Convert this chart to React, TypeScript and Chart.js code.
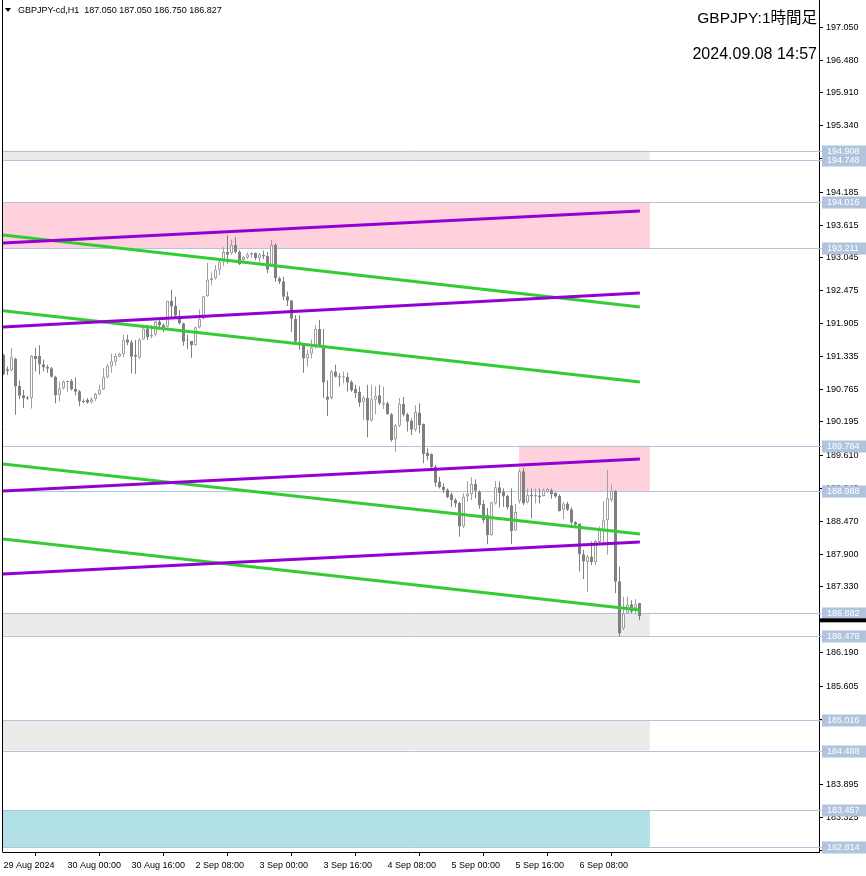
import React, { useEffect, useRef } from "react";
import { Chart, registerables } from "chart.js";

Chart.register(...registerables);

// ---- candle data (H1 bars, 29 Aug 08:00 .. 6 Sep 23:00) ----
const opens = [
  191.36, 191.11, 191.09, 191.30, 190.82, 190.66, 190.62, 190.61, 191.34, 191.34,
  191.20, 191.15, 191.13, 190.98, 190.66, 190.78, 190.89, 190.91, 190.77, 190.73,
  190.56, 190.58, 190.54, 190.59, 190.68, 190.76, 190.97, 191.16, 191.24, 191.33,
  191.37, 191.63, 191.58, 191.36, 191.31, 191.63, 191.82, 191.68, 191.71, 191.94,
  191.88, 191.85, 192.30, 192.21, 192.04, 191.91, 191.62, 191.60, 191.53, 191.84,
  191.99, 192.38, 192.66, 192.69, 192.84, 192.98, 193.15, 193.12, 193.27, 193.15,
  193.01, 193.05, 193.10, 193.13, 193.04, 193.10, 193.08, 192.90, 193.27, 192.69,
  192.64, 192.38, 192.31, 191.99, 191.59, 191.53, 191.30, 191.38, 191.49, 191.81,
  191.53, 190.64, 190.61, 191.07, 190.99, 190.97, 190.98, 190.89, 190.77, 190.72,
  190.54, 190.61, 190.22, 190.58, 190.66, 190.50, 190.52, 190.33, 189.89, 190.13,
  190.51, 190.33, 190.22, 190.06, 190.36, 190.16, 189.66, 189.64, 189.42, 189.16,
  189.07, 189.02, 188.94, 188.84, 188.79, 188.38, 188.90, 188.94, 189.12, 188.98,
  188.77, 188.58, 188.23, 188.78, 189.06, 188.98, 188.91, 188.75, 188.31, 188.82,
  189.34, 188.80, 188.93, 188.90, 188.92, 188.91, 188.98, 189.01, 188.96, 188.91,
  188.67, 188.78, 188.68, 188.46, 188.43, 187.90, 187.76, 187.86, 187.76, 188.11,
  188.32, 188.49, 188.84, 189.00, 187.43, 186.61, 186.87, 187.03, 186.96, 187.05,
];
const highs = [
  191.38, 191.16, 191.48, 191.31, 190.91, 190.75, 190.65, 191.36, 191.48, 191.53,
  191.28, 191.19, 191.15, 191.00, 190.90, 190.92, 190.92, 190.94, 190.97, 190.75,
  190.59, 190.61, 190.63, 190.70, 190.84, 191.13, 191.21, 191.38, 191.39, 191.40,
  191.71, 191.71, 191.62, 191.62, 191.65, 191.85, 191.88, 191.88, 191.95, 191.97,
  191.91, 192.30, 192.49, 192.37, 192.14, 191.92, 191.71, 191.60, 191.85, 192.15,
  192.38, 192.96, 192.79, 192.92, 193.04, 193.23, 193.44, 193.36, 193.41, 193.18,
  193.08, 193.14, 193.14, 193.14, 193.13, 193.17, 193.15, 193.36, 193.30, 192.72,
  192.72, 192.46, 192.31, 192.05, 192.05, 191.56, 191.45, 191.63, 191.88, 191.97,
  191.81, 190.92, 191.10, 191.19, 191.04, 191.07, 191.05, 190.92, 190.84, 190.81,
  190.65, 190.84, 190.84, 190.81, 190.84, 190.81, 190.55, 190.35, 190.16, 190.61,
  190.63, 190.35, 190.26, 190.49, 190.52, 190.17, 189.74, 189.65, 189.45, 189.24,
  189.13, 189.04, 188.97, 188.87, 188.81, 188.96, 189.16, 189.24, 189.20, 189.01,
  188.84, 188.70, 188.81, 189.17, 189.16, 189.04, 188.93, 189.04, 188.77, 189.38,
  189.40, 189.04, 189.04, 189.04, 189.04, 189.04, 189.05, 189.04, 188.98, 188.94,
  188.80, 188.81, 188.71, 188.47, 188.43, 187.97, 187.89, 188.12, 188.15, 188.38,
  188.82, 189.36, 189.11, 189.01, 187.68, 187.16, 187.16, 187.10, 187.12, 187.05,
];
const lows = [
  191.01, 191.01, 191.07, 190.32, 190.59, 190.44, 190.58, 190.43, 191.07, 191.02,
  191.07, 191.05, 190.97, 190.52, 190.55, 190.76, 190.72, 190.74, 190.66, 190.47,
  190.52, 190.51, 190.51, 190.56, 190.66, 190.75, 190.95, 191.05, 191.17, 191.32,
  191.32, 191.53, 191.04, 191.03, 191.30, 191.62, 191.62, 191.65, 191.68, 191.80,
  191.76, 191.84, 192.02, 192.01, 191.89, 191.52, 191.46, 191.31, 191.52, 191.82,
  191.98, 192.37, 192.57, 192.67, 192.75, 192.90, 192.95, 193.10, 193.12, 192.92,
  192.98, 193.02, 193.04, 193.01, 192.96, 193.02, 192.78, 192.89, 192.63, 192.59,
  192.31, 192.21, 191.76, 191.56, 191.45, 191.05, 191.16, 191.30, 191.47, 191.50,
  190.61, 190.30, 190.59, 190.97, 190.81, 190.87, 190.72, 190.72, 190.61, 190.46,
  190.23, 189.93, 190.20, 190.33, 190.49, 190.42, 190.32, 189.85, 189.68, 190.11,
  190.29, 190.03, 189.97, 190.03, 190.00, 189.48, 189.53, 189.39, 189.07, 189.04,
  188.96, 188.87, 188.72, 188.71, 188.20, 188.35, 188.81, 188.84, 188.87, 188.69,
  188.44, 188.07, 188.22, 188.76, 188.71, 188.72, 188.67, 188.07, 188.30, 188.78,
  188.75, 188.78, 188.52, 188.78, 188.78, 188.90, 188.96, 188.86, 188.88, 188.64,
  188.51, 188.65, 188.41, 188.39, 187.60, 187.47, 187.24, 187.71, 187.71, 188.09,
  188.09, 187.89, 188.81, 187.22, 186.47, 186.58, 186.86, 186.87, 186.87, 186.75,
];
const closes = [
  191.02, 191.08, 191.32, 190.81, 190.65, 190.61, 190.60, 191.34, 191.29, 191.20,
  191.14, 191.12, 190.98, 190.66, 190.78, 190.90, 190.90, 190.76, 190.72, 190.55,
  190.54, 190.53, 190.59, 190.68, 190.76, 190.98, 191.17, 191.25, 191.34, 191.38,
  191.63, 191.57, 191.33, 191.33, 191.63, 191.82, 191.67, 191.71, 191.94, 191.87,
  191.83, 192.30, 192.20, 192.04, 191.91, 191.59, 191.61, 191.53, 191.84, 191.99,
  192.38, 192.67, 192.69, 192.84, 192.98, 193.15, 193.10, 193.27, 193.15, 192.94,
  193.06, 193.11, 193.13, 193.04, 193.11, 193.07, 192.84, 193.27, 192.69, 192.63,
  192.37, 192.30, 191.99, 191.59, 191.53, 191.30, 191.38, 191.49, 191.81, 191.53,
  190.88, 190.58, 191.07, 190.98, 190.97, 190.99, 190.88, 190.74, 190.70, 190.53,
  190.62, 190.22, 190.59, 190.65, 190.52, 190.53, 190.33, 189.88, 190.14, 190.51,
  190.32, 190.20, 190.06, 190.37, 190.14, 189.64, 189.60, 189.41, 189.14, 189.06,
  189.01, 188.89, 188.84, 188.78, 188.38, 188.90, 188.95, 189.12, 189.00, 188.75,
  188.49, 188.23, 188.80, 189.06, 188.96, 188.90, 188.72, 188.30, 188.63, 189.34,
  188.78, 188.93, 188.90, 188.93, 188.89, 189.01, 189.03, 188.94, 188.90, 188.65,
  188.78, 188.67, 188.45, 188.41, 187.90, 187.77, 187.86, 187.76, 188.13, 188.34,
  188.49, 188.87, 189.00, 187.42, 186.52, 186.87, 187.02, 186.90, 187.03, 186.827,
];

// ---- axes ----
const xTickIdx = [0, 16, 32, 48, 64, 80, 96, 112, 128, 144];
const xTickLabels = [
  "29 Aug 2024", "30 Aug 00:00", "30 Aug 16:00", "2 Sep 08:00", "3 Sep 00:00",
  "3 Sep 16:00", "4 Sep 08:00", "5 Sep 00:00", "5 Sep 16:00", "6 Sep 08:00",
];
const yTicks = [
  197.05, 196.48, 195.91, 195.34, 194.77, 194.185, 193.615, 193.045, 192.475,
  191.905, 191.335, 190.765, 190.195, 189.61, 189.04, 188.47, 187.9, 187.33,
  186.76, 186.19, 185.605, 185.035, 184.465, 183.895, 183.325, 182.755,
];
const Y_MIN = 182.726;
const Y_MAX = 197.525;
const X_MIN = -0.125;
const X_MAX = 203.875;

// ---- horizontal levels & zones ----
const levelPrices = [194.908, 194.748, 194.016, 193.211, 189.784, 188.988, 186.882, 186.478, 185.016, 184.488, 183.457, 182.814];
const zoneTop = [194.908, 194.016, 189.784, 186.882, 185.016, 183.457];
const zoneBottom = [194.748, 193.211, 188.988, 186.478, 184.488, 182.814];
const zoneStart = [-0.125, -0.125, 128.9, -0.125, -0.125, -0.125];
const zoneEnd = [161.6, 161.6, 161.6, 161.6, 161.6, 161.6];
const zoneColors = ["#ebebeb", "#ffd1dc", "#ffd1dc", "#ebebeb", "#ebebeb", "#b0e0e6"];
const bidMarker = 186.75;

// ---- trend lines (start price at left edge, end price at last bar) ----
const lineStart = -0.125;
const lineEnd = 159.1;
const purpleLines = [
  [193.304, 193.86],
  [191.845, 192.436],
  [188.996, 189.552],
  [187.555, 188.11],
];
const greenLines = [
  [193.443, 192.192],
  [192.128, 190.89],
  [189.465, 188.249],
  [188.163, 186.929],
];

const headerText = "GBPJPY-cd,H1  187.050 187.050 186.750 186.827";
const titleText = "GBPJPY:1時間足";
const dateText = "2024.09.08 14:57";

const FONT = "'Liberation Sans', 'DejaVu Sans', sans-serif";
const LEVEL_COLOR = "#b0c4de";

const decorPlugin = {
  id: "mtDecor",
  beforeDatasetsDraw(chart: any) {
    const { ctx, chartArea } = chart;
    const xs = chart.scales.x;
    const ys = chart.scales.y;
    ctx.save();
    ctx.beginPath();
    ctx.rect(chartArea.left, chartArea.top, chartArea.right - chartArea.left, chartArea.bottom - chartArea.top);
    ctx.clip();
    for (let i = 0; i < zoneTop.length; i++) {
      const x0 = Math.max(xs.getPixelForValue(zoneStart[i]), chartArea.left);
      const x1 = xs.getPixelForValue(zoneEnd[i]);
      const y0 = ys.getPixelForValue(zoneTop[i]);
      const y1 = ys.getPixelForValue(zoneBottom[i]);
      ctx.fillStyle = zoneColors[i];
      ctx.fillRect(x0, y0, x1 - x0, y1 - y0);
    }
    ctx.restore();
    ctx.save();
    ctx.strokeStyle = LEVEL_COLOR;
    ctx.lineWidth = 1;
    for (const p of levelPrices) {
      const y = Math.round(ys.getPixelForValue(p)) + 0.5;
      ctx.beginPath();
      ctx.moveTo(chartArea.left, y);
      ctx.lineTo(chartArea.right + 3, y);
      ctx.stroke();
    }
    ctx.restore();
  },
  afterDraw(chart: any) {
    const { ctx, chartArea } = chart;
    const ys = chart.scales.y;
    ctx.save();
    // left frame line
    ctx.strokeStyle = "#000";
    ctx.lineWidth = 1;
    ctx.beginPath();
    ctx.moveTo(2.5, 0);
    ctx.lineTo(2.5, chartArea.bottom + 0.5);
    ctx.stroke();
    // level labels
    ctx.font = `9px ${FONT}`;
    ctx.textBaseline = "middle";
    ctx.textAlign = "left";
    for (const p of levelPrices) {
      const y = Math.round(ys.getPixelForValue(p)) + 0.5;
      ctx.fillStyle = LEVEL_COLOR;
      ctx.fillRect(chartArea.right + 3, y - 6, 866 - chartArea.right - 3, 12);
      ctx.fillStyle = "#ffffff";
      ctx.fillText(p.toFixed(3), chartArea.right + 8, y + 0.5);
    }
    // bid marker
    const by = ys.getPixelForValue(bidMarker);
    ctx.fillStyle = "#000";
    ctx.fillRect(chartArea.right, by - 2, 866 - chartArea.right, 4);
    // header
    ctx.beginPath();
    ctx.moveTo(5, 8);
    ctx.lineTo(11, 8);
    ctx.lineTo(8, 12);
    ctx.closePath();
    ctx.fill();
    ctx.fillStyle = "#000";
    ctx.font = `9px ${FONT}`;
    ctx.fillText(headerText, 18, 10.5);
    // title
    ctx.textAlign = "right";
    ctx.font = `15.5px ${FONT}, 'Noto Sans CJK JP'`;
    ctx.fillText(titleText, 817, 19);
    ctx.font = `16px ${FONT}, 'Noto Sans CJK JP'`;
    ctx.fillText(dateText, 817, 55);
    ctx.restore();
  },
};

export default function App() {
  const ref = useRef<HTMLCanvasElement>(null);
  useEffect(() => {
    document.body.style.margin = "0";
    const canvas = ref.current;
    if (!canvas) return;
    const idx = opens.map((_, i) => i);
    const bull = idx.map((i) => closes[i] >= opens[i]);
    const lineSets = [
      ...purpleLines.map((l) => ({ l, c: "#9400d3" })),
      ...greenLines.map((l) => ({ l, c: "#32cd32" })),
    ].map(({ l, c }) => ({
      type: "line" as const,
      data: [
        { x: lineStart, y: l[0] },
        { x: lineEnd, y: l[1] },
      ],
      borderColor: c,
      backgroundColor: c,
      borderWidth: 3,
      pointRadius: 0,
      fill: false,
      order: 0,
    }));
    const chart = new Chart(canvas, {
      type: "bar",
      data: {
        datasets: [
          {
            type: "bar",
            data: idx.map((i) => ({ x: i, y: [lows[i], highs[i]] })) as any,
            backgroundColor: bull.map((b) => (b ? "#a0a0a0" : "#808080")),
            borderWidth: 0,
            barThickness: 1,
            grouped: false,
            inflateAmount: 0,
            order: 2,
          } as any,
          {
            type: "bar",
            data: idx.map((i) => ({ x: i, y: [opens[i], closes[i]] })) as any,
            backgroundColor: bull.map((b) => (b ? "#ffffff" : "#808080")),
            borderColor: bull.map((b) => (b ? "#a0a0a0" : "#808080")),
            borderWidth: 1,
            borderSkipped: false,
            barThickness: 3,
            minBarLength: 1,
            grouped: false,
            inflateAmount: 0,
            order: 1,
          } as any,
          ...(lineSets as any[]),
        ],
      },
      options: {
        responsive: false,
        maintainAspectRatio: false,
        animation: false,
        layout: { padding: { left: 3, top: 0, right: 0, bottom: 0 } },
        plugins: {
          legend: { display: false },
          tooltip: { enabled: false },
          title: { display: false },
        },
        scales: {
          x: {
            type: "linear",
            min: X_MIN,
            max: X_MAX,
            offset: false,
            position: "bottom",
            afterBuildTicks: (s: any) => {
              s.ticks = xTickIdx.map((v) => ({ value: v }));
            },
            afterFit: (s: any) => {
              s.height = 24;
              s.paddingLeft = 0;
              s.paddingRight = 0;
              s.paddingTop = 0;
              s.paddingBottom = 0;
            },
            ticks: {
              autoSkip: false,
              maxRotation: 0,
              minRotation: 0,
              align: "start",
              padding: 4,
              color: "#000",
              font: { size: 9, family: FONT },
              callback: (_v: any, i: number) => xTickLabels[i],
            },
            grid: { drawOnChartArea: false, drawTicks: true, tickLength: 4, color: "#000" },
            border: { display: true, color: "#000", width: 1 },
          } as any,
          y: {
            type: "linear",
            position: "right",
            min: Y_MIN,
            max: Y_MAX,
            afterBuildTicks: (s: any) => {
              s.ticks = yTicks.map((v) => ({ value: v }));
            },
            afterFit: (s: any) => {
              s.width = 47;
              s.paddingTop = 0;
              s.paddingBottom = 0;
              s.paddingLeft = 0;
              s.paddingRight = 0;
            },
            ticks: {
              autoSkip: false,
              padding: 3,
              color: "#000",
              font: { size: 9, family: FONT },
              callback: (v: any) => Number(v).toFixed(3),
            },
            grid: { drawOnChartArea: false, drawTicks: true, tickLength: 4, color: "#000" },
            border: { display: true, color: "#000", width: 1 },
          } as any,
        },
      } as any,
      plugins: [decorPlugin],
    });
    return () => chart.destroy();
  }, []);
  return (
    <div style={{ width: 866, height: 876, background: "#fff" }}>
      <canvas ref={ref} width={866} height={876} style={{ display: "block", width: 866, height: 876 }} />
    </div>
  );
}
